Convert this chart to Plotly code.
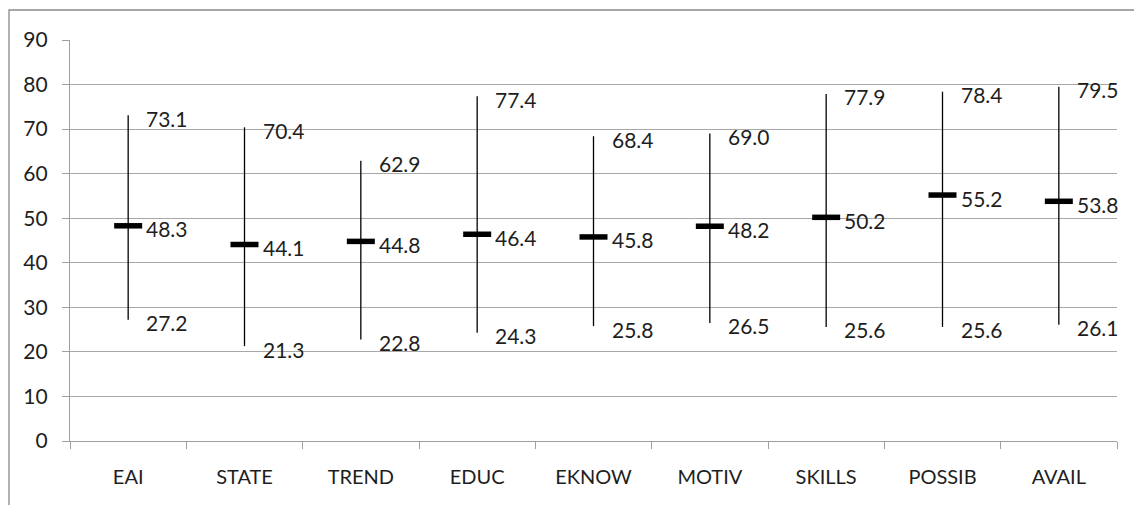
import plotly.graph_objects as go

categories = ["EAI", "STATE", "TREND", "EDUC", "EKNOW", "MOTIV", "SKILLS", "POSSIB", "AVAIL"]
low_vals = [27.2, 21.3, 22.8, 24.3, 25.8, 26.5, 25.6, 25.6, 26.1]
mean_vals = [48.3, 44.1, 44.8, 46.4, 45.8, 48.2, 50.2, 55.2, 53.8]
high_vals = [73.1, 70.4, 62.9, 77.4, 68.4, 69.0, 77.9, 78.4, 79.5]
y_ticks = list(range(0, 91, 10))

W, H = 1134, 505
ML, MR, MT, MB = 70, 17, 40, 64
FONT = "Lato"
TXT = "#1e1e1e"

fig = go.Figure()

# high-low lines
lx, ly = [], []
for c, lo, hi in zip(categories, low_vals, high_vals):
    lx += [c, c, None]
    ly += [lo, hi, None]
fig.add_trace(go.Scatter(x=lx, y=ly, mode="lines", line=dict(color="black", width=1.3),
                         hoverinfo="skip", showlegend=False))

# mean markers
fig.add_trace(go.Scatter(x=categories, y=mean_vals, mode="markers",
                         marker=dict(symbol="line-ew", size=20, line=dict(color="black", width=5.5)),
                         showlegend=False))

annotations = []
for c, lo, mn, hi in zip(categories, low_vals, mean_vals, high_vals):
    for v in (lo, mn, hi):
        annotations.append(dict(x=c, y=v, xref="x", yref="y", text=f"{v:.1f}", showarrow=False,
                                xanchor="left", yanchor="middle", xshift=16, yshift=-3,
                                font=dict(family=FONT, size=21, color=TXT)))

pw = W - ML - MR
ph = H - MT - MB
shapes = [dict(type="rect", xref="paper", yref="paper",
               x0=(9 - ML) / pw, x1=(W + 10 - ML) / pw,
               y0=(H - MB - (H + 10)) / ph, y1=(H - MB - 10) / ph,
               line=dict(color="#8a8a8a", width=1.3), fillcolor="rgba(0,0,0,0)", layer="below")]

fig.update_layout(
    width=W, height=H,
    margin=dict(l=ML, r=MR, t=MT, b=MB),
    paper_bgcolor="white", plot_bgcolor="white",
    font=dict(family=FONT, size=21, color=TXT),
    annotations=annotations, shapes=shapes,
    xaxis=dict(type="category", categoryorder="array", categoryarray=categories,
               range=[-0.5, len(categories) - 0.5],
               showline=True, linecolor="#a0a0a0", linewidth=1.3,
               ticks="outside", tickson="boundaries", ticklen=7, tickcolor="#a0a0a0",
               showgrid=False, tickfont=dict(family=FONT, size=20, color=TXT),
               ticklabelstandoff=18),
    yaxis=dict(range=[0, 90], tickvals=y_ticks, showgrid=True, gridcolor="#a8a8a8", gridwidth=1.3,
               showline=True, linecolor="#a0a0a0", linewidth=1.3, zeroline=False,
               ticks="outside", ticklen=7, tickcolor="#a0a0a0",
               tickfont=dict(family=FONT, size=21, color=TXT), ticklabelstandoff=10),
)

fig.write_html("out.html", config={"displayModeBar": False},
               post_script="document.body.style.margin='0';document.body.style.overflow='hidden';")
